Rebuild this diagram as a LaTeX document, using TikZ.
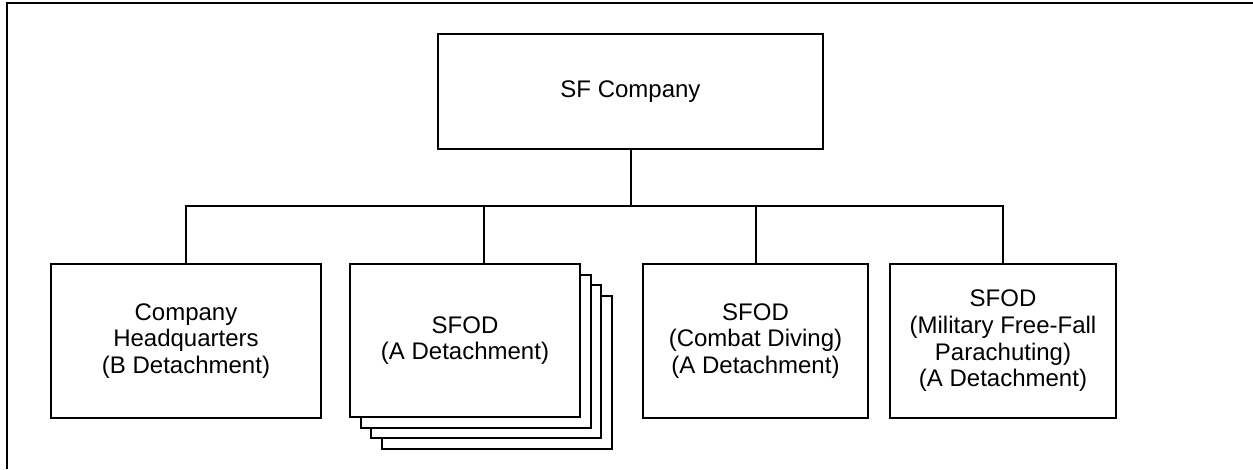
\documentclass[tikz,border=0pt]{standalone}
\usepackage{fontspec}
\setmainfont{Liberation Sans}
\begin{document}
\begin{tikzpicture}[x=1pt,y=-1pt,
  unit/.style={draw, line width=2pt, fill=white, rectangle, align=center,
    inner sep=0pt, font=\fontsize{24}{26.7}\selectfont},
  link/.style={line width=2pt},
  frameline/.style={line width=2.2pt}]
  \useasboundingbox (0,0) rectangle (1253,469);
  % outer frame (top and left edges)
  \draw[frameline] (7,469) -- (7,3) -- (1253,3);

  % head of the chart
  \node[unit, minimum width=385pt, minimum height=115pt] (top) at (630.5,91.5) {SF Company};

  % stacked copies behind the SFOD box
  \foreach \k in {3,2,1} {
    \node[unit, minimum width=230pt, minimum height=153pt] (sfod\k) at (465+10.67*\k,340.5+10.67*\k) {};
  }
  \node[unit, minimum width=230pt, minimum height=153pt] (sfod) at (465,340.5) {SFOD\\(A Detachment)};

  \node[unit, minimum width=270pt, minimum height=154pt] (hq) at (186,341) {Company\\Headquarters\\(B Detachment)};
  \node[unit, minimum width=225pt, minimum height=154pt] (dive) at (755.5,341) {SFOD\\(Combat Diving)\\(A Detachment)};
  \node[unit, minimum width=226pt, minimum height=154pt] (mff) at (1003,341) {SFOD\\(Military Free-Fall\\Parachuting)\\(A Detachment)};

  % horizontal bus and drop to the stack
  \coordinate (bus) at (0,206);
  \coordinate (stacktop) at (484,264);

  \draw[link] (top.south) -- (top.south |- bus);
  \draw[link] (hq.north) -- (hq.north |- bus) -- (mff.north |- bus) -- (mff.north);
  \draw[link] (stacktop |- bus) -- (stacktop);
  \draw[link] (dive.north |- bus) -- (dive.north);
\end{tikzpicture}
\end{document}
